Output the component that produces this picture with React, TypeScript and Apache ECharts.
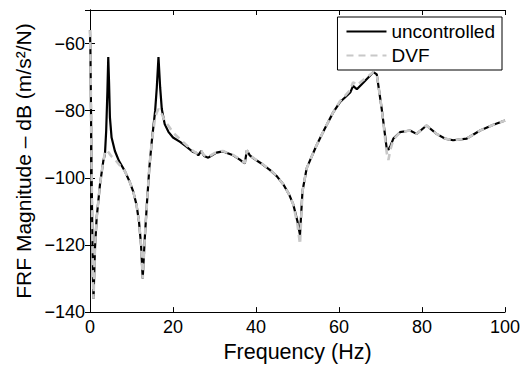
import React, { useEffect, useRef } from "react";
import * as echarts from "echarts";

const freq = [
  0, 0.1, 0.4, 0.7, 0.85, 1.2, 1.6, 2.4, 3.2, 3.6, 3.9, 4.2, 4.4, 4.6, 4.8, 5.2, 6.0, 7.0, 8.4,
  9.5, 10.4, 11.2, 11.8, 12.3, 12.7, 13.2, 13.7, 14.3, 14.9, 15.7, 16.1, 16.5, 16.9, 17.3,
  18.0, 18.9, 20.0, 21.7, 23.0, 24.8, 25.5, 26.1, 26.8, 27.5, 28.5, 29.5, 30.5, 32.0, 33.0,
  34.5, 36.0, 37.3, 37.8, 38.5, 39.4, 41.0, 43.4, 45.0, 46.6, 48.0, 49.0, 50.0, 50.6, 51.2,
  52.2, 53.3, 54.6, 56.5, 58.6, 60.2, 61.5, 62.7, 63.4, 64.3, 65.9, 67.0, 68.3, 69.1, 70.3,
  71.5, 71.9, 72.4, 73.1, 74.7, 77.1, 78.7, 81.1, 83.5, 85.5, 87.5, 90.8, 94.0, 97.2, 100,
];

const uncontrolled = [
  -56, -62, -100, -130, -136, -121, -112, -102, -95, -93, -86, -74, -64, -72, -82, -88, -92,
  -95, -98, -101, -104, -108, -113, -120, -130, -118, -108, -97, -89, -80, -73, -64, -73,
  -79.5, -84, -86.3, -88, -89.3, -90.5, -92.3, -92.5, -93.3, -92.0, -93.5, -94, -93.2, -92.5,
  -92.1, -92.6, -93.3, -94.5, -95.7, -91.8, -93.3, -94.2, -95.5, -97.7, -99.5, -102, -105,
  -108, -113, -117, -104, -97.2, -94, -90.3, -85.5, -80.5, -77.5, -76, -74.6, -72.6, -73.6,
  -71.6, -70.2, -68.5, -69.2, -79.5, -91.3, -91.6, -90.5, -88.3, -86.4, -85.9, -86.9, -84.4,
  -86.9, -88.3, -88.8, -88.3, -85.9, -84.2, -82.9,
];

const dvf = [
  -56, -62, -100, -130, -136, -121, -112, -102, -95, -92.5, -91.8, -92, -92.3, -92.6, -93,
  -93.6, -94.5, -96, -98, -101, -104, -108, -113, -120, -130, -118, -108, -97, -89, -82, -80.5,
  -79.5, -80, -81, -83, -84.5, -86.5, -88.5, -90, -92, -92.5, -93, -92.0, -93.3, -93.8, -93,
  -92.3, -92.0, -92.5, -93.2, -94.4, -95.6, -91.8, -93.2, -94.1, -95.4, -97.6, -99.5, -102,
  -105, -108, -114, -119.8, -104, -97.2, -94, -90.3, -85.5, -80.5, -77.2, -75.5, -73.8,
  -71.5, -72.4, -70.8, -69.8, -68.5, -69.2, -79.5, -92.5, -94.7, -91.5, -88.6, -86.4, -85.9,
  -86.9, -84.4, -86.9, -88.3, -88.8, -88.3, -85.9, -84.2, -82.9,
];

const xTicks = [0, 20, 40, 60, 80, 100];
const yTicks = [-140, -120, -100, -80, -60];

const FONT = "Liberation Sans";

export default function App() {
  const ref = useRef<HTMLDivElement>(null);
  useEffect(() => {
    if (!ref.current) return;
    const chart = echarts.init(ref.current, null, { renderer: "svg" });
    const fmt = (v: number) => String(v).replace("-", "\u2212");
    const lineAxis = { show: true, lineStyle: { color: "#000", width: 1 } };
    const tick = { show: true, inside: true, length: 5, lineStyle: { color: "#000" } };
    chart.setOption({
      animation: false,
      backgroundColor: "#fff",
      grid: { left: 90, right: 20, top: 10, bottom: 53, containLabel: false },
      legend: {
        right: 23,
        top: 17,
        orient: "vertical",
        backgroundColor: "#fff",
        borderColor: "#000",
        borderWidth: 1,
        borderRadius: 0,
        padding: [5, 7, 5, 8],
        itemGap: 5,
        itemWidth: 40,
        itemHeight: 14,
        itemStyle: { opacity: 0 },
        textStyle: { fontFamily: FONT, fontSize: 19, color: "#000" },
        data: ["uncontrolled", "DVF"],
      },
      xAxis: [
        {
          type: "value",
          min: xTicks[0],
          max: xTicks[xTicks.length - 1],
          interval: 20,
          name: "Frequency (Hz)",
          nameLocation: "middle",
          nameGap: 25,
          nameTextStyle: { fontFamily: FONT, fontSize: 21.5, color: "#000" },
          axisLine: lineAxis,
          axisTick: tick,
          splitLine: { show: false },
          axisLabel: { fontFamily: FONT, fontSize: 18, color: "#000", margin: 6, formatter: fmt },
        },
        {
          type: "value",
          position: "top",
          min: xTicks[0],
          max: xTicks[xTicks.length - 1],
          interval: 20,
          axisLine: lineAxis,
          axisTick: tick,
          splitLine: { show: false },
          axisLabel: { show: false },
        },
      ],
      yAxis: [
        {
          type: "value",
          min: yTicks[0],
          max: -50,
          interval: 20,
          name: "FRF Magnitude \u2013 dB (m/s\u00b2/N)",
          nameLocation: "middle",
          nameGap: 52,
          nameTextStyle: { fontFamily: FONT, fontSize: 21, color: "#000" },
          axisLine: lineAxis,
          axisTick: tick,
          splitLine: { show: false },
          axisLabel: {
            fontFamily: FONT,
            fontSize: 18,
            color: "#000",
            margin: 5,
            showMaxLabel: false,
            formatter: fmt,
          },
        },
        {
          type: "value",
          position: "right",
          min: yTicks[0],
          max: -50,
          interval: 20,
          axisLine: lineAxis,
          axisTick: tick,
          splitLine: { show: false },
          axisLabel: { show: false },
        },
      ],
      series: [
        {
          name: "uncontrolled",
          type: "line",
          symbol: "none",
          data: freq.map((f, i) => [f, uncontrolled[i]]),
          lineStyle: { color: "#000", width: 2.2 },
          itemStyle: { color: "#000" },
          z: 2,
        },
        {
          name: "DVF",
          type: "line",
          symbol: "none",
          data: freq.map((f, i) => [f, dvf[i]]),
          lineStyle: { color: "#c8c8c8", width: 2.6, type: [7, 5] },
          itemStyle: { color: "#c8c8c8" },
          z: 3,
        },
      ],
    });
    return () => chart.dispose();
  }, []);
  return <div ref={ref} style={{ width: 525, height: 368, position: "absolute", left: 0, top: 0 }} />;
}
